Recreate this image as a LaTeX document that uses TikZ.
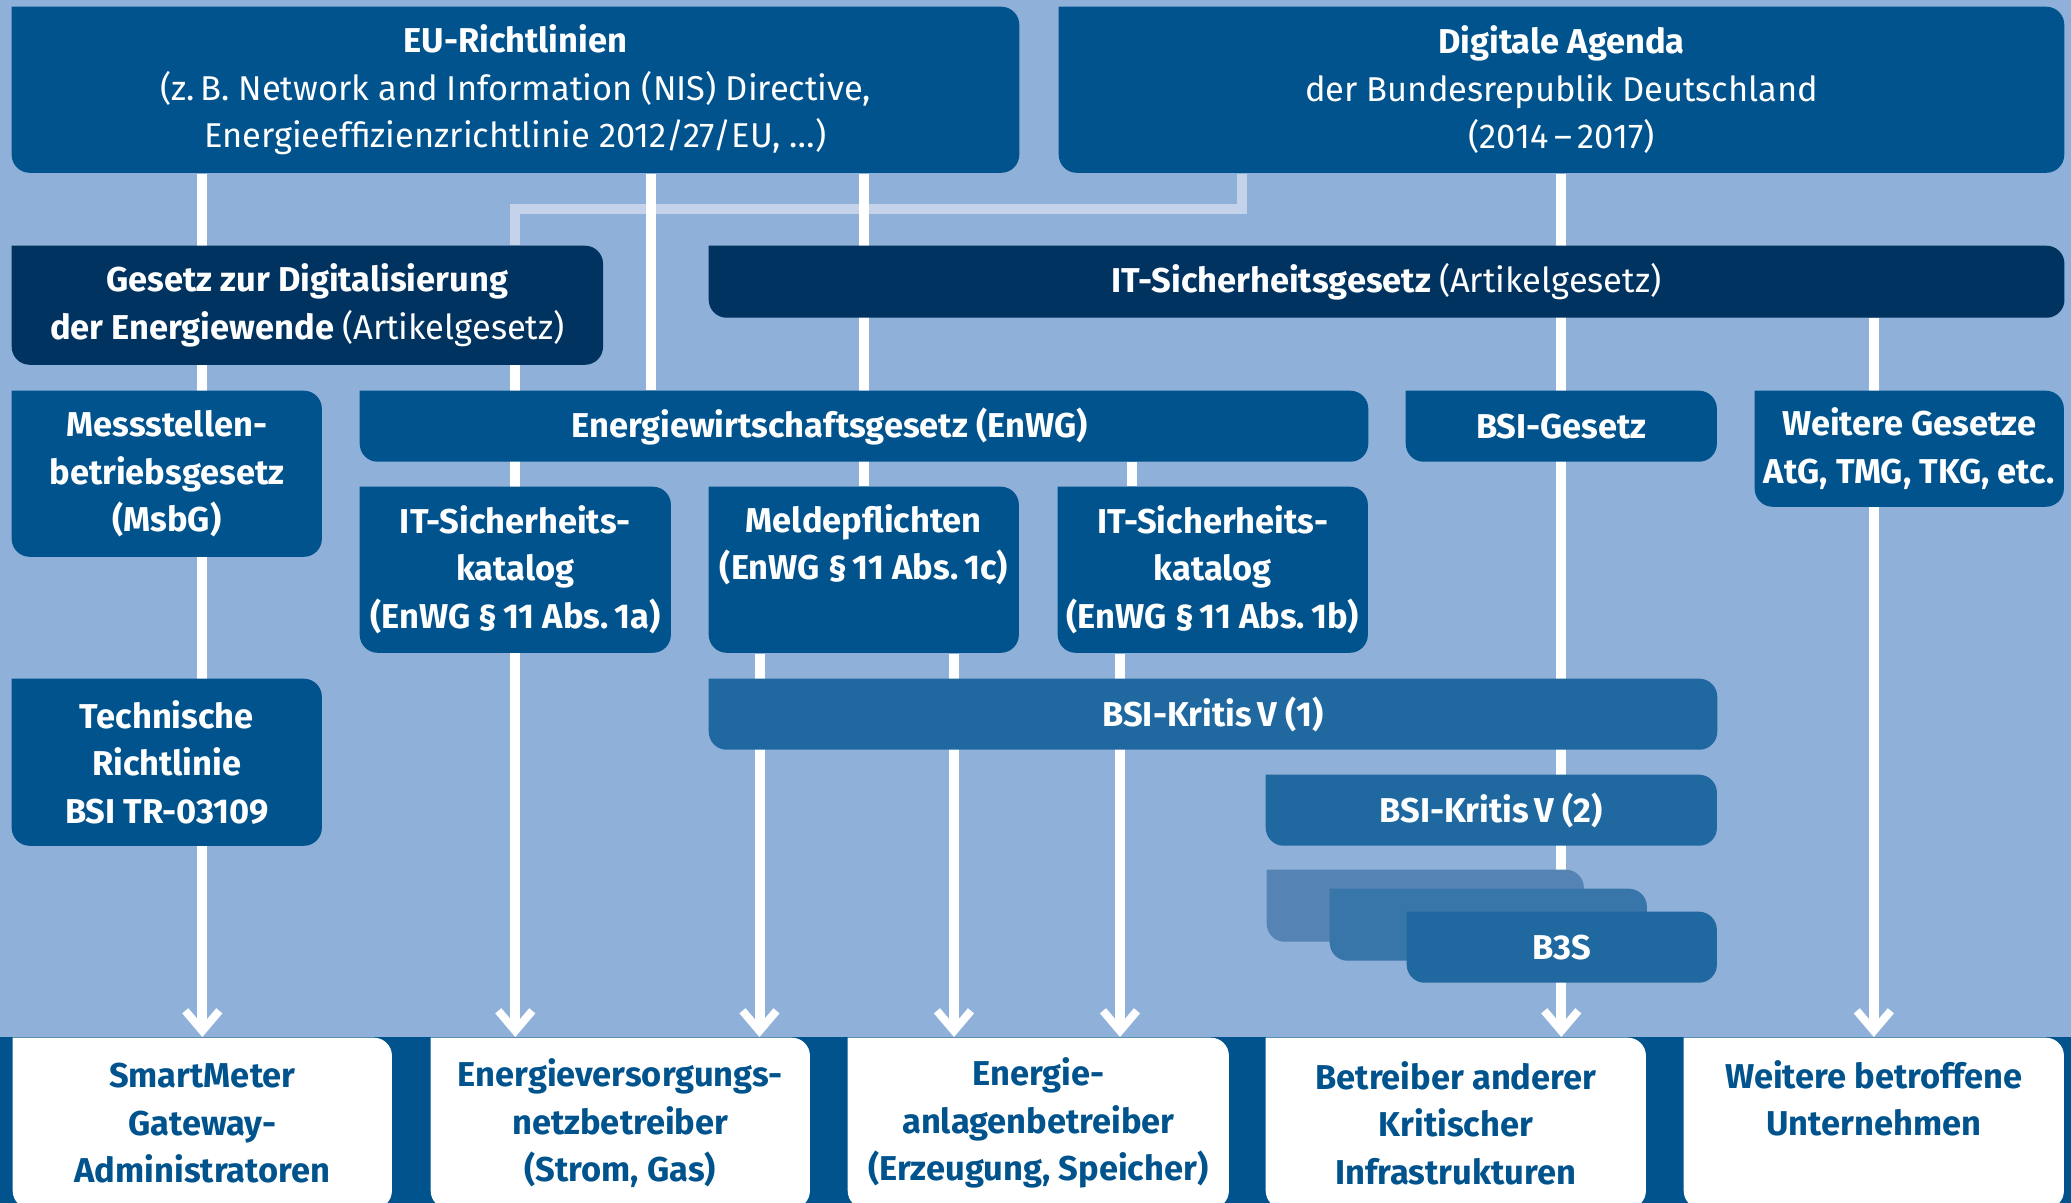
\documentclass[tikz,border=0pt]{standalone}
\usepackage{fontspec}
\setmainfont{Fira Sans}
\usepackage{xcolor}
\usepackage{tikz}
\usetikzlibrary{calc, positioning, arrows.meta, backgrounds}

\definecolor{bgblue}{RGB}{143,176,216}
\definecolor{midblue}{RGB}{0,83,140}
\definecolor{navy}{RGB}{0,51,96}
\definecolor{kritis}{RGB}{32,105,160}
\definecolor{stackA}{RGB}{84,131,180}
\definecolor{stackB}{RGB}{56,117,168}
\definecolor{lite}{RGB}{197,211,234}

\newcommand{\tabr}{0.18cm}

\tikzset{
    tab/.style={
        rectangle, inner sep=0pt, anchor=north west, align=center, text=white,
        font=\fontsize{9.8}{13.5}\selectfont\bfseries,
        path picture={
            \fill[#1] (path picture bounding box.north west)
                -- ([xshift=-\tabr]path picture bounding box.north east) arc[start angle=90, end angle=0, radius=\tabr]
                -- ([yshift=\tabr]path picture bounding box.south east) arc[start angle=0, end angle=-90, radius=\tabr]
                -- ([xshift=\tabr]path picture bounding box.south west) arc[start angle=270, end angle=180, radius=\tabr]
                -- cycle;
        }
    },
    tab/.default=midblue,
    target/.style={tab=white, text=midblue, minimum height=1.71cm},
    wire/.style={white, line width=0.1cm},
    arrow/.style={wire, -{Straight Barb[length=0.2cm, width=0.34cm, line width=0.08cm]}},
    feed/.style={lite, line width=0.1cm, line join=miter}
}

\begin{document}
\begin{tikzpicture}[x=0.01cm, y=-0.01cm]
        \useasboundingbox (0,0) rectangle (2071,1203);

        % Nodes
        \node[tab, minimum width=10.07cm, minimum height=1.66cm] (EU) at (11,6)
            {EU-Richtlinien\\{\mdseries(z.\,B. Network and Information (NIS) Directive,}\\{\mdseries Energieeffizienzrichtlinie 2012/27/EU, \dots)}};
        \node[tab, minimum width=10.05cm, minimum height=1.66cm] (DA) at (1058,6)
            {Digitale Agenda\\{\mdseries der Bundesrepublik Deutschland}\\{\mdseries(2014\,–\,2017)}};

        \node[tab=navy, minimum width=5.91cm, minimum height=1.19cm] (GzD) at (11,245)
            {Gesetz zur Digitalisierung\\der Energiewende {\mdseries(Artikelgesetz)}};
        \node[tab=navy, minimum width=13.55cm, minimum height=0.72cm] (ITSiG) at (708,245)
            {IT-Sicherheitsgesetz {\mdseries(Artikelgesetz)}};

        \node[tab, minimum width=3.1cm, minimum height=1.66cm] (MsbG) at (11,390) {Messstellen-\\betriebsgesetz\\(MsbG)};
        \node[tab, minimum width=10.08cm, minimum height=0.71cm] (EnWG) at (359,390) {Energiewirtschaftsgesetz (EnWG)\hspace*{0.69cm}};
        \node[tab, minimum width=3.11cm, minimum height=0.71cm] (BSIG) at (1405,390) {BSI-Gesetz};
        \node[tab, minimum width=3.09cm, minimum height=1.16cm] (WG) at (1754,390) {Weitere Gesetze\\AtG, TMG, TKG, etc.};

        \node[tab, minimum width=3.11cm, minimum height=1.66cm] (ISK1a) at (359,486) {IT-Sicherheits-\\katalog\\(EnWG \S\,11 Abs.\,1a)};
        \node[tab, minimum width=3.1cm, minimum height=1.66cm, text depth=0.55cm] (Meld) at (708,486) {Meldepflichten\\(EnWG \S\,11 Abs.\,1c)};
        \node[tab, minimum width=3.1cm, minimum height=1.66cm] (ISK1b) at (1057,486) {IT-Sicherheits-\\katalog\\(EnWG \S\,11 Abs.\,1b)};

        \node[tab, minimum width=3.1cm, minimum height=1.67cm] (TR) at (11,678) {Technische\\Richtlinie\\BSI TR-03109};
        \node[tab=kritis, minimum width=10.08cm, minimum height=0.71cm] (Kritis1) at (708,678) {BSI-Kritis\,V (1)};
        \node[tab=kritis, minimum width=4.51cm, minimum height=0.71cm] (Kritis2) at (1265,774) {BSI-Kritis\,V (2)};

        % B3S stack
        \node[tab=stackA, minimum width=3.17cm, minimum height=0.72cm] (B3SA) at (1266,869) {};
        \node[tab=stackB, minimum width=3.17cm, minimum height=0.72cm] (B3SB) at (1329,888) {};
        \node[tab=kritis, minimum width=3.1cm, minimum height=0.71cm] (B3S) at (1406,911) {B3S};

        % Addressees
        \node[target, minimum width=3.79cm] (SMGW) at (12,1037) {SmartMeter\\Gateway-\\Administratoren};
        \node[target, minimum width=3.79cm] (EVN) at (430,1037) {Energieversorgungs-\\netzbetreiber\\(Strom, Gas)};
        \node[target, minimum width=3.81cm] (EA) at (847,1037) {Energie-\\anlagenbetreiber\\(Erzeugung, Speicher)};
        \node[target, minimum width=3.8cm] (BKI) at (1265,1037) {Betreiber anderer\\Kritischer\\Infrastrukturen};
        \node[target, minimum width=3.8cm, text depth=0.5cm] (WBU) at (1683,1037) {Weitere betroffene\\Unternehmen};

        % Edges
        \coordinate (Fork) at (1241.5,209);
        \coordinate (EUtoEnWG) at (651,0);
        \coordinate (MeldL) at (759.5,0);
        \coordinate (MeldR) at (954,0);
        \coordinate (EnWGtoB) at (1132,0);
        \coordinate (BtoEA) at (1120,0);

        \begin{pgfonlayer}{background}
            \fill[bgblue] (0,0) rectangle (2071,1037);
            \fill[midblue] (0,1037) rectangle (2071,1203);

            \draw[feed] (DA.south -| Fork) -- (Fork) -| (GzD.north -| ISK1a.north);

            \draw[arrow] (EU.south -| SMGW.north) -- (SMGW.north);
            \draw[arrow] (GzD.south -| ISK1a.south) -- (EVN.north -| ISK1a.south);
            \draw[wire] (EU.south -| EUtoEnWG) -- (EnWG.north -| EUtoEnWG);
            \draw[wire] (EU.south -| Meld.north) -- (Meld.north);
            \draw[arrow] (Meld.south -| MeldL) -- (EVN.north -| MeldL);
            \draw[arrow] (Meld.south -| MeldR) -- (EA.north -| MeldR);
            \draw[wire] (EnWG.south -| EnWGtoB) -- (ISK1b.north -| EnWGtoB);
            \draw[arrow] (ISK1b.south -| BtoEA) -- (EA.north -| BtoEA);
            \draw[arrow] (DA.south -| BSIG.north) -- (BKI.north -| BSIG.north);
            \draw[arrow] (ITSiG.south -| WBU.north) -- (WBU.north);
        \end{pgfonlayer}

\end{tikzpicture}
\end{document}
